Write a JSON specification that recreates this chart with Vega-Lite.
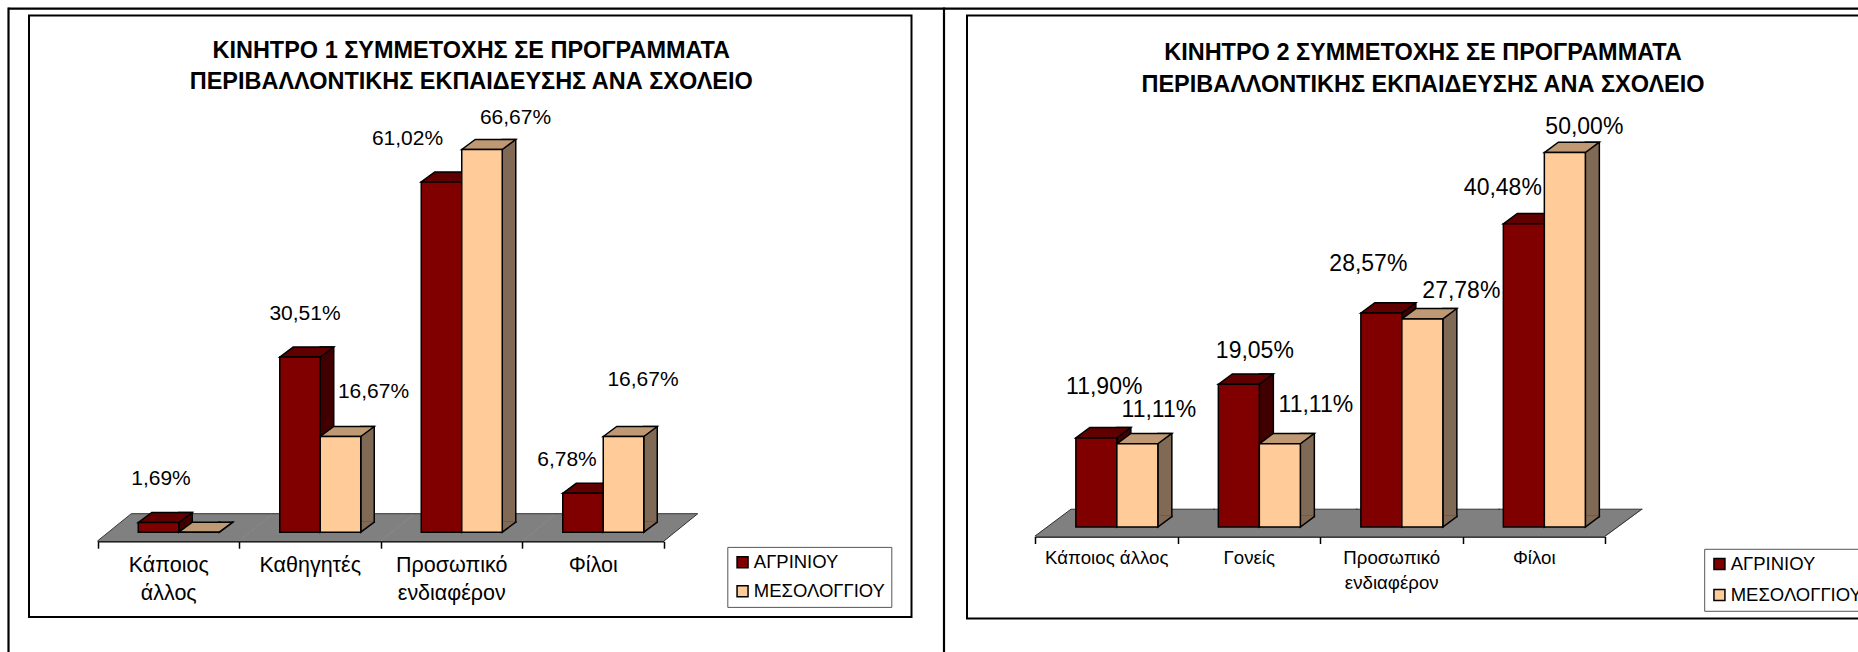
{
"$schema":"https://vega.github.io/schema/vega-lite/v6.json",
"background":"white",
"padding":{"left":6,"top":4.6,"right":0,"bottom":0},
"bounds":"flush",
"spacing":55,
"resolve":{"scale":{"fill":"independent","xOffset":"independent"},"legend":{"fill":"independent"}},
"config":{"view":{"stroke":"#000","strokeWidth":2},"font":"Liberation Sans"},
"datasets":{
"p1":[
{"k":"Κάποιος άλλος","s":"ΑΓΡΙΝΙΟΥ","v":1.69,"t":"1,69%"},
{"k":"Κάποιος άλλος","s":"ΜΕΣΟΛΟΓΓΙΟΥ","v":0,"t":""},
{"k":"Καθηγητές","s":"ΑΓΡΙΝΙΟΥ","v":30.51,"t":"30,51%"},
{"k":"Καθηγητές","s":"ΜΕΣΟΛΟΓΓΙΟΥ","v":16.67,"t":"16,67%"},
{"k":"Προσωπικό ενδιαφέρον","s":"ΑΓΡΙΝΙΟΥ","v":61.02,"t":"61,02%"},
{"k":"Προσωπικό ενδιαφέρον","s":"ΜΕΣΟΛΟΓΓΙΟΥ","v":66.67,"t":"66,67%"},
{"k":"Φίλοι","s":"ΑΓΡΙΝΙΟΥ","v":6.78,"t":"6,78%"},
{"k":"Φίλοι","s":"ΜΕΣΟΛΟΓΓΙΟΥ","v":16.67,"t":"16,67%"}],
"p2":[
{"k":"Κάποιος άλλος","s":"ΑΓΡΙΝΙΟΥ","v":11.9,"t":"11,90%"},
{"k":"Κάποιος άλλος","s":"ΜΕΣΟΛΟΓΓΙΟΥ","v":11.11,"t":"11,11%"},
{"k":"Γονείς","s":"ΑΓΡΙΝΙΟΥ","v":19.05,"t":"19,05%"},
{"k":"Γονείς","s":"ΜΕΣΟΛΟΓΓΙΟΥ","v":11.11,"t":"11,11%"},
{"k":"Προσωπικό ενδιαφέρον","s":"ΑΓΡΙΝΙΟΥ","v":28.57,"t":"28,57%"},
{"k":"Προσωπικό ενδιαφέρον","s":"ΜΕΣΟΛΟΓΓΙΟΥ","v":27.78,"t":"27,78%"},
{"k":"Φίλοι","s":"ΑΓΡΙΝΙΟΥ","v":40.48,"t":"40,48%"},
{"k":"Φίλοι","s":"ΜΕΣΟΛΟΓΓΙΟΥ","v":50,"t":"50,00%"}]
},
"hconcat":[
{
"width":882.5,"height":601.3,
"data":{"name":"p1"},
"title":{"text":["ΚΙΝΗΤΡΟ 1 ΣΥΜΜΕΤΟΧΗΣ ΣΕ ΠΡΟΓΡΑΜΜΑΤΑ","ΠΕΡΙΒΑΛΛΟΝΤΙΚΗΣ ΕΚΠΑΙΔΕΥΣΗΣ ΑΝΑ ΣΧΟΛΕΙΟ"],"font":"Liberation Sans","fontSize":23.5,"fontWeight":"bold","color":"#000","lineHeight":31,"anchor":"middle","frame":"group","offset":0,"dx":1,"dy":87},
"encoding":{
"x":{"field":"k","type":"nominal","sort":null,"title":null,"scale":{"range":[68.5,634.5],"paddingInner":0,"paddingOuter":0},
"axis":{"orient":"bottom","offset":-75.7,"tickBand":"extent","tickSize":7,"tickWidth":1.5,"tickColor":"#000","domainColor":"#000","domainWidth":1.5,"labelAngle":0,"labelFont":"Liberation Sans","labelFontSize":21.5,"labelColor":"#000","labelPadding":6,"labelLineHeight":28,"labelBaseline":"top","labelExpr":"split(datum.label,' ')","labelLimit":0,"grid":false}},
"y":{"field":"v","type":"quantitative","axis":null,"scale":{"domain":[0,70],"range":[516.6,114.8]}}
},
"layer":[
{"data":{"values":[{}]},"mark":{"type":"rule","stroke":"#000","strokeWidth":2.2},"encoding":{"x":{"value":-20.5},"x2":{"value":1830},"y":{"value":-7}}},
{"data":{"values":[{}]},"mark":{"type":"rule","stroke":"#000","strokeWidth":2.2},"encoding":{"x":{"value":-20.5},"y":{"value":-8},"y2":{"value":640}}},
{"data":{"values":[{}]},"mark":{"type":"rule","stroke":"#000","strokeWidth":2.2},"encoding":{"x":{"value":915},"y":{"value":-8},"y2":{"value":640}}},
{"transform":[{"filter":"datum.s==='ΑΓΡΙΝΙΟΥ'"}],"mark":{"type":"point","shape":"M-71,0 L-37,-27.5 L105,-27.5 L71,0 Z","size":4,"filled":true,"opacity":1,"fill":"#808080","yOffset":9},"encoding":{"y":{"datum":0}}},
{"transform":[{"filter":"datum.s==='ΑΓΡΙΝΙΟΥ'"}],"mark":{"type":"point","shape":"M-37,-27.5 L105,-27.5","size":4,"filled":false,"opacity":1,"stroke":"#333","strokeWidth":1,"yOffset":9},"encoding":{"y":{"datum":0}}},
{"transform":[{"filter":"datum.s==='ΑΓΡΙΝΙΟΥ' && datum.k==='Κάποιος άλλος'"}],"mark":{"type":"point","shape":"M-71,0 L-37,-27.5","size":4,"filled":false,"opacity":1,"stroke":"#333","strokeWidth":1,"yOffset":9},"encoding":{"y":{"datum":0}}},
{"transform":[{"filter":"datum.s==='ΑΓΡΙΝΙΟΥ' && datum.k==='Φίλοι'"}],"mark":{"type":"point","shape":"M105,-27.5 L71,0","size":4,"filled":false,"opacity":1,"stroke":"#333","strokeWidth":1,"yOffset":9},"encoding":{"y":{"datum":0}}},
{"transform":[{"filter":"datum.s==='ΑΓΡΙΝΙΟΥ'"}],"mark":{"type":"bar","width":13.5,"xOffset":17.25,"yOffset":-10,"y2Offset":-10,"stroke":"#000","strokeWidth":1.5,"fill":"#400000"}},
{"transform":[{"filter":"datum.s==='ΜΕΣΟΛΟΓΓΙΟΥ'"}],"mark":{"type":"bar","width":13.5,"xOffset":57.75,"yOffset":-10,"y2Offset":-10,"stroke":"#000","strokeWidth":1.5,"fill":"#806A55"}},
{"mark":{"type":"point","shape":"M33.75,-11 L33.75,-10 L20.25,0 L20.25,-11","size":4,"filled":true,"opacity":1,"stroke":"#000","strokeWidth":1.5},
"encoding":{"xOffset":{"field":"s","type":"nominal","scale":{"range":[40.75,121.75],"paddingInner":0,"paddingOuter":0}},"y":{"datum":0},"fill":{"condition":{"test":"datum.s==='ΑΓΡΙΝΙΟΥ'","value":"#400000"},"value":"#806A55"}}},
{"mark":{"type":"point","shape":"M-20.25,0 L-6.75,-10 L33.75,-10 L20.25,0 Z","size":4,"filled":true,"opacity":1,"stroke":"#000","strokeWidth":1.5},
"encoding":{"xOffset":{"field":"s","type":"nominal"},"fill":{"condition":{"test":"datum.s==='ΑΓΡΙΝΙΟΥ'","value":"#600000"},"value":"#BF9973"}}},
{"mark":{"type":"bar","stroke":"#000","strokeWidth":1.5},
"encoding":{"xOffset":{"field":"s","type":"nominal"},"fill":{"field":"s","type":"nominal","scale":{"domain":["ΑΓΡΙΝΙΟΥ","ΜΕΣΟΛΟΓΓΙΟΥ"],"range":["#800000","#FFCC99"]},
"legend":{"title":null,"orient":"none","legendX":698.3,"legendY":531.3,"fillColor":"#fff","strokeColor":"#555","padding":6,"symbolType":"square","symbolSize":121,"symbolStrokeColor":"#000","symbolStrokeWidth":1.5,"labelFont":"Liberation Sans","labelFontSize":18.5,"labelColor":"#000","labelLimit":0,"rowPadding":10,"labelOffset":2}}}},
{"transform":[{"filter":"datum.k==='Κάποιος άλλος' && datum.s==='ΑΓΡΙΝΙΟΥ'"}],"mark":{"type":"text","dx":2.5,"dy":-43,"font":"Liberation Sans","fontSize":21,"color":"#000"},"encoding":{"xOffset":{"field":"s","type":"nominal"},"text":{"field":"t"}}},
{"transform":[{"filter":"datum.k==='Καθηγητές' && datum.s==='ΑΓΡΙΝΙΟΥ'"}],"mark":{"type":"text","dx":5,"dy":-43,"font":"Liberation Sans","fontSize":21,"color":"#000"},"encoding":{"xOffset":{"field":"s","type":"nominal"},"text":{"field":"t"}}},
{"transform":[{"filter":"datum.k==='Καθηγητές' && datum.s==='ΜΕΣΟΛΟΓΓΙΟΥ'"}],"mark":{"type":"text","dx":33,"dy":-45,"font":"Liberation Sans","fontSize":21,"color":"#000"},"encoding":{"xOffset":{"field":"s","type":"nominal"},"text":{"field":"t"}}},
{"transform":[{"filter":"datum.k==='Προσωπικό ενδιαφέρον' && datum.s==='ΑΓΡΙΝΙΟΥ'"}],"mark":{"type":"text","dx":-34,"dy":-43,"font":"Liberation Sans","fontSize":21,"color":"#000"},"encoding":{"xOffset":{"field":"s","type":"nominal"},"text":{"field":"t"}}},
{"transform":[{"filter":"datum.k==='Προσωπικό ενδιαφέρον' && datum.s==='ΜΕΣΟΛΟΓΓΙΟΥ'"}],"mark":{"type":"text","dx":33.5,"dy":-32,"font":"Liberation Sans","fontSize":21,"color":"#000"},"encoding":{"xOffset":{"field":"s","type":"nominal"},"text":{"field":"t"}}},
{"transform":[{"filter":"datum.k==='Φίλοι' && datum.s==='ΑΓΡΙΝΙΟΥ'"}],"mark":{"type":"text","dx":-16,"dy":-33,"font":"Liberation Sans","fontSize":21,"color":"#000"},"encoding":{"xOffset":{"field":"s","type":"nominal"},"text":{"field":"t"}}},
{"transform":[{"filter":"datum.k==='Φίλοι' && datum.s==='ΜΕΣΟΛΟΓΓΙΟΥ'"}],"mark":{"type":"text","dx":19.5,"dy":-56.7,"font":"Liberation Sans","fontSize":21,"color":"#000"},"encoding":{"xOffset":{"field":"s","type":"nominal"},"text":{"field":"t"}}}
]
},
{
"width":930,"height":603,
"data":{"name":"p2"},
"title":{"text":["ΚΙΝΗΤΡΟ 2 ΣΥΜΜΕΤΟΧΗΣ ΣΕ ΠΡΟΓΡΑΜΜΑΤΑ","ΠΕΡΙΒΑΛΛΟΝΤΙΚΗΣ ΕΚΠΑΙΔΕΥΣΗΣ ΑΝΑ ΣΧΟΛΕΙΟ"],"font":"Liberation Sans","fontSize":23.5,"fontWeight":"bold","color":"#000","lineHeight":32,"anchor":"start","align":"center","frame":"group","offset":0,"dx":456,"dy":81},
"encoding":{
"x":{"field":"k","type":"nominal","sort":null,"title":null,"scale":{"range":[68,638],"paddingInner":0,"paddingOuter":0},
"axis":{"orient":"bottom","offset":-82.1,"tickBand":"extent","tickSize":7,"tickWidth":1.5,"tickColor":"#000","domainColor":"#000","domainWidth":1.5,"labelAngle":0,"labelFont":"Liberation Sans","labelFontSize":18.7,"labelColor":"#000","labelPadding":5,"labelLineHeight":25,"labelBaseline":"top","labelExpr":"datum.label==='Προσωπικό ενδιαφέρον'?split(datum.label,' '):datum.label","labelLimit":0,"grid":false}},
"y":{"field":"v","type":"quantitative","axis":null,"scale":{"domain":[0,54],"range":[511.4,107]}}
},
"layer":[
{"transform":[{"filter":"datum.s==='ΑΓΡΙΝΙΟΥ'"}],"mark":{"type":"point","shape":"M-72,0 L-35.3,-27 L108.7,-27 L72,0 Z","size":4,"filled":true,"opacity":1,"fill":"#808080","yOffset":9.2},"encoding":{"y":{"datum":0}}},
{"transform":[{"filter":"datum.s==='ΑΓΡΙΝΙΟΥ'"}],"mark":{"type":"point","shape":"M-35.3,-27 L108.7,-27","size":4,"filled":false,"opacity":1,"stroke":"#333","strokeWidth":1,"yOffset":9.2},"encoding":{"y":{"datum":0}}},
{"transform":[{"filter":"datum.s==='ΑΓΡΙΝΙΟΥ' && datum.k==='Κάποιος άλλος'"}],"mark":{"type":"point","shape":"M-71.3,0 L-35.3,-27","size":4,"filled":false,"opacity":1,"stroke":"#333","strokeWidth":1,"yOffset":9.2},"encoding":{"y":{"datum":0}}},
{"transform":[{"filter":"datum.s==='ΑΓΡΙΝΙΟΥ' && datum.k==='Φίλοι'"}],"mark":{"type":"point","shape":"M108,-27 L71.3,0","size":4,"filled":false,"opacity":1,"stroke":"#333","strokeWidth":1,"yOffset":9.2},"encoding":{"y":{"datum":0}}},
{"transform":[{"filter":"datum.s==='ΑΓΡΙΝΙΟΥ'"}],"mark":{"type":"bar","width":14,"xOffset":17.6,"yOffset":-10.4,"y2Offset":-10.4,"stroke":"#000","strokeWidth":1.5,"fill":"#400000"}},
{"transform":[{"filter":"datum.s==='ΜΕΣΟΛΟΓΓΙΟΥ'"}],"mark":{"type":"bar","width":14,"xOffset":58.6,"yOffset":-10.4,"y2Offset":-10.4,"stroke":"#000","strokeWidth":1.5,"fill":"#806A55"}},
{"mark":{"type":"point","shape":"M34.5,-11.4 L34.5,-10.4 L20.5,0 L20.5,-11.4","size":4,"filled":true,"opacity":1,"stroke":"#000","strokeWidth":1.5},
"encoding":{"xOffset":{"field":"s","type":"nominal","scale":{"range":[40.85,122.85],"paddingInner":0,"paddingOuter":0}},"y":{"datum":0},"fill":{"condition":{"test":"datum.s==='ΑΓΡΙΝΙΟΥ'","value":"#400000"},"value":"#806A55"}}},
{"mark":{"type":"point","shape":"M-20.5,0 L-6.5,-10.4 L34.5,-10.4 L20.5,0 Z","size":4,"filled":true,"opacity":1,"stroke":"#000","strokeWidth":1.5},
"encoding":{"xOffset":{"field":"s","type":"nominal"},"fill":{"condition":{"test":"datum.s==='ΑΓΡΙΝΙΟΥ'","value":"#600000"},"value":"#BF9973"}}},
{"mark":{"type":"bar","stroke":"#000","strokeWidth":1.5},
"encoding":{"xOffset":{"field":"s","type":"nominal"},"fill":{"field":"s","type":"nominal","scale":{"domain":["ΑΓΡΙΝΙΟΥ","ΜΕΣΟΛΟΓΓΙΟΥ"],"range":["#800000","#FFCC99"]},
"legend":{"title":null,"orient":"none","legendX":737.2,"legendY":533.2,"fillColor":"#fff","strokeColor":"#555","padding":6,"symbolType":"square","symbolSize":121,"symbolStrokeColor":"#000","symbolStrokeWidth":1.5,"labelFont":"Liberation Sans","labelFontSize":18.5,"labelColor":"#000","labelLimit":0,"rowPadding":12,"labelOffset":2}}}},
{"transform":[{"filter":"datum.k==='Κάποιος άλλος' && datum.s==='ΑΓΡΙΝΙΟΥ'"}],"mark":{"type":"text","dx":7.9,"dy":-50.5,"font":"Liberation Sans","fontSize":23,"color":"#000"},"encoding":{"xOffset":{"field":"s","type":"nominal"},"text":{"field":"t"}}},
{"transform":[{"filter":"datum.k==='Κάποιος άλλος' && datum.s==='ΜΕΣΟΛΟΓΓΙΟΥ'"}],"mark":{"type":"text","dx":21.5,"dy":-33.5,"font":"Liberation Sans","fontSize":23,"color":"#000"},"encoding":{"xOffset":{"field":"s","type":"nominal"},"text":{"field":"t"}}},
{"transform":[{"filter":"datum.k==='Γονείς' && datum.s==='ΑΓΡΙΝΙΟΥ'"}],"mark":{"type":"text","dx":16,"dy":-33.3,"font":"Liberation Sans","fontSize":23,"color":"#000"},"encoding":{"xOffset":{"field":"s","type":"nominal"},"text":{"field":"t"}}},
{"transform":[{"filter":"datum.k==='Γονείς' && datum.s==='ΜΕΣΟΛΟΓΓΙΟΥ'"}],"mark":{"type":"text","dx":36,"dy":-39,"font":"Liberation Sans","fontSize":23,"color":"#000"},"encoding":{"xOffset":{"field":"s","type":"nominal"},"text":{"field":"t"}}},
{"transform":[{"filter":"datum.k==='Προσωπικό ενδιαφέρον' && datum.s==='ΑΓΡΙΝΙΟΥ'"}],"mark":{"type":"text","dx":-13,"dy":-48.8,"font":"Liberation Sans","fontSize":23,"color":"#000"},"encoding":{"xOffset":{"field":"s","type":"nominal"},"text":{"field":"t"}}},
{"transform":[{"filter":"datum.k==='Προσωπικό ενδιαφέρον' && datum.s==='ΜΕΣΟΛΟΓΓΙΟΥ'"}],"mark":{"type":"text","dx":39,"dy":-27.5,"font":"Liberation Sans","fontSize":23,"color":"#000"},"encoding":{"xOffset":{"field":"s","type":"nominal"},"text":{"field":"t"}}},
{"transform":[{"filter":"datum.k==='Φίλοι' && datum.s==='ΑΓΡΙΝΙΟΥ'"}],"mark":{"type":"text","dx":-21,"dy":-35.5,"font":"Liberation Sans","fontSize":23,"color":"#000"},"encoding":{"xOffset":{"field":"s","type":"nominal"},"text":{"field":"t"}}},
{"transform":[{"filter":"datum.k==='Φίλοι' && datum.s==='ΜΕΣΟΛΟΓΓΙΟΥ'"}],"mark":{"type":"text","dx":19.5,"dy":-25.5,"font":"Liberation Sans","fontSize":23,"color":"#000"},"encoding":{"xOffset":{"field":"s","type":"nominal"},"text":{"field":"t"}}}
]
}
]
}
